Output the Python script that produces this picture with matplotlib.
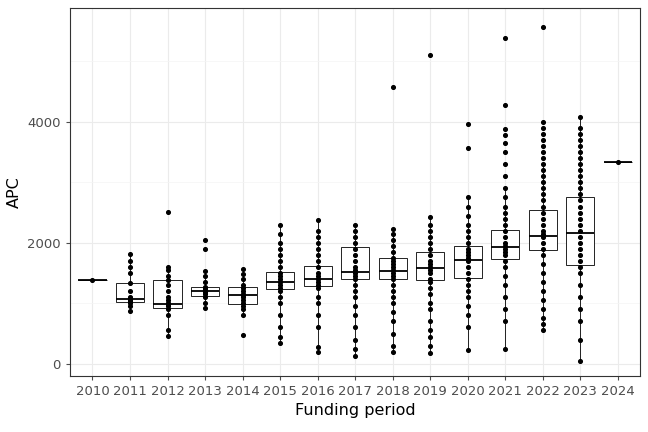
import matplotlib.pyplot as plt
from matplotlib.ticker import MultipleLocator

years = ['2010', '2011', '2012', '2013', '2014', '2015', '2016', '2017',
         '2018', '2019', '2020', '2021', '2022', '2023', '2024']

# box stats: whislo, q1, med, q3, whishi
whislo = [1390, 870, 460, 930, 800, 350, 200, 130, 200, 170, 230, 240, 550, 40, 3340]
q1 = [1390, 1025, 930, 1120, 990, 1240, 1290, 1400, 1400, 1380, 1420, 1730, 1880, 1630, 3340]
med = [1390, 1070, 980, 1200, 1130, 1350, 1400, 1510, 1530, 1590, 1710, 1930, 2120, 2160, 3340]
q3 = [1390, 1340, 1390, 1270, 1270, 1520, 1620, 1930, 1750, 1840, 1940, 2220, 2540, 2760, 3340]
whishi = [1390, 1810, 1600, 1530, 1570, 2300, 2380, 2300, 2230, 2420, 2760, 2900, 3300, 4080, 3340]

points = [
    [1390],
    [870, 950, 1000, 1030, 1060, 1080, 1100, 1200, 1340, 1500, 1600, 1700, 1810],
    [460, 560, 800, 900, 950, 980, 1000, 1050, 1100, 1200, 1300, 1390, 1450, 1550, 1600, 2510],
    [930, 1000, 1100, 1150, 1180, 1200, 1220, 1250, 1270, 1350, 1450, 1530, 1900, 2050],
    [470, 800, 900, 950, 1000, 1050, 1100, 1130, 1150, 1200, 1250, 1300, 1400, 1480, 1570],
    [350, 450, 600, 800, 1000, 1100, 1200, 1250, 1300, 1350, 1400, 1450, 1500, 1600,
     1700, 1800, 1900, 2000, 2150, 2300],
    [200, 280, 600, 800, 1000, 1100, 1250, 1300, 1350, 1400, 1450, 1500, 1600, 1700,
     1800, 1900, 2000, 2100, 2200, 2380],
    [130, 250, 400, 600, 800, 950, 1100, 1200, 1300, 1400, 1450, 1500, 1550, 1600, 1700,
     1800, 1900, 2000, 2100, 2200, 2300],
    [200, 300, 500, 700, 850, 1000, 1100, 1200, 1300, 1400, 1450, 1500, 1550, 1600, 1650,
     1700, 1750, 1850, 1950, 2050, 2150, 2230, 4580],
    [170, 300, 450, 550, 700, 900, 1000, 1150, 1250, 1350, 1400, 1500, 1550, 1600, 1650,
     1700, 1800, 1900, 2000, 2100, 2200, 2300, 2420, 5100],
    [230, 600, 800, 950, 1100, 1200, 1300, 1400, 1500, 1600, 1700, 1750, 1800, 1850, 1900,
     2000, 2100, 2200, 2300, 2450, 2600, 2760, 3560, 3960],
    [240, 700, 900, 1100, 1300, 1450, 1600, 1700, 1800, 1850, 1900, 1950, 2000, 2100, 2200,
     2300, 2400, 2500, 2600, 2750, 2900, 3100, 3300, 3500, 3650, 3780, 3880, 4280, 5380],
    [550, 650, 750, 900, 1050, 1200, 1350, 1500, 1650, 1800, 1900, 2000, 2100, 2150, 2200,
     2300, 2400, 2500, 2600, 2700, 2800, 2900, 3000, 3100, 3200, 3300, 3400, 3500, 3600,
     3700, 3800, 3900, 4000, 5570],
    [40, 400, 700, 900, 1100, 1300, 1500, 1600, 1700, 1800, 1900, 2000, 2100, 2200, 2300,
     2400, 2500, 2600, 2700, 2800, 2900, 3000, 3100, 3200, 3300, 3400, 3500, 3600, 3700,
     3800, 3900, 4080],
    [3340],
]

stats = [dict(whislo=whislo[i], q1=q1[i], med=med[i], q3=q3[i], whishi=whishi[i], fliers=[])
         for i in range(len(years))]

fig = plt.figure(figsize=(6.48, 4.32), dpi=100)
ax = fig.add_axes([0.108, 0.13, 0.880, 0.851])
ax.set_axisbelow(True)

pos = list(range(1, len(years) + 1))
ax.bxp(stats, positions=pos, widths=0.75, showfliers=False, patch_artist=True,
       boxprops=dict(facecolor='white', edgecolor='black', linewidth=0.6),
       medianprops=dict(color='black', linewidth=1.3),
       whiskerprops=dict(color='black', linewidth=0.6),
       capprops=dict(linewidth=0))

for p, vals in zip(pos, points):
    ax.scatter([p] * len(vals), vals, s=7, color='black', zorder=3)

ax.set_xlim(0.4, len(years) + 0.6)
ax.set_ylim(-200, 5880)
ax.set_xticks(pos)
ax.set_xticklabels(years)
ax.yaxis.set_major_locator(MultipleLocator(2000))
ax.yaxis.set_minor_locator(MultipleLocator(1000))
ax.grid(True, which='major', color='#ebebeb', linewidth=0.8)
ax.grid(True, which='minor', axis='y', color='#f4f4f4', linewidth=0.5)
ax.tick_params(which='minor', length=0)
ax.tick_params(which='major', colors='#4d4d4d', labelsize=9.5, length=3)
for s in ax.spines.values():
    s.set_color('#333333')
    s.set_linewidth(0.8)
ax.set_xlabel('Funding period', fontsize=11.5)
ax.set_ylabel('APC', fontsize=11.5)

fig.savefig('out.png', dpi=100)
